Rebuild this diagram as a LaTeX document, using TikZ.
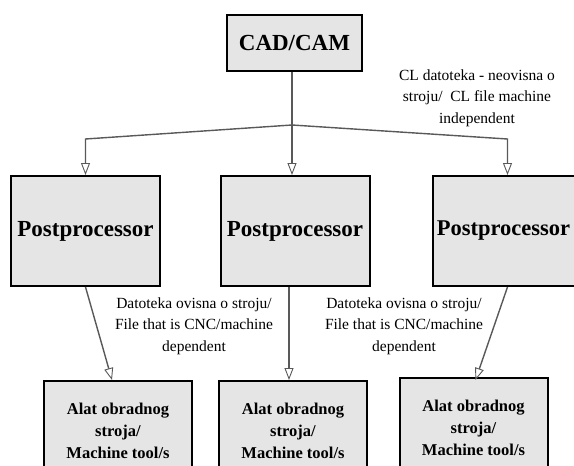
\documentclass[tikz,border=0pt]{standalone}
\usepackage{fontspec}
\setmainfont{Liberation Serif}
\usetikzlibrary{arrows.meta,positioning,calc}

\begin{document}
\begin{tikzpicture}[x=1pt,y=-1pt,
    box/.style={draw=black, line width=2pt, fill=black!10, inner sep=0pt, align=center},
    pfeil/.style={draw=black!65, line width=1.4pt, -{Triangle[open,length=12pt,width=9pt,line width=0.9pt,fill=white]}},
    etikett/.style={align=center, inner sep=0pt, font=\fontsize{15.5}{21.5}\selectfont}]
    % Rahmen des Bildes
    \clip (0,0) rectangle (574,466);
    \fill[white] (0,0) rectangle (574,466);

    % Oberer Kasten
    \node[box, minimum width=135pt, minimum height=56pt, font=\bfseries\fontsize{23}{26}\selectfont] (cad) at (294.5,43) {CAD/CAM};

    % Postprozessoren
    \node[box, minimum width=149pt, minimum height=110pt, font=\bfseries\fontsize{23}{26}\selectfont] (postL) at (85.5,231) {\raisebox{5pt}{Postprocessor}};
    \node[box, minimum width=149pt, minimum height=110pt, font=\bfseries\fontsize{23}{26}\selectfont] (postM) at (295,231) {\raisebox{5pt}{Postprocessor}};
    \node[box, minimum width=149pt, minimum height=110pt, font=\bfseries\fontsize{22.5}{26}\selectfont] (postR) at (507.5,231) {\hspace*{-8pt}\raisebox{5pt}{Postprocessor}};

    % Maschinen
    \node[box, minimum width=148pt, minimum height=100pt, font=\bfseries\fontsize{16.5}{22}\selectfont] (toolL) at (118,431) {Alat obradnog\\stroja/\\Machine tool/s};
    \node[box, minimum width=148pt, minimum height=100pt, font=\bfseries\fontsize{16.5}{22}\selectfont] (toolM) at (293,431) {Alat obradnog\\stroja/\\Machine tool/s};
    \node[box, minimum width=148pt, minimum height=100pt, font=\bfseries\fontsize{16.5}{22}\selectfont] (toolR) at (473.5,428) {Alat obradnog\\stroja/\\Machine tool/s};

    % Verzweigung unter CAD/CAM
    \coordinate (ast) at (292,125);
    \coordinate (astL) at (postL.north |- 0,139);
    \coordinate (astR) at (postR.north |- 0,139);

    \draw[pfeil] (cad.south -| ast) -- (ast) -- (ast |- postM.north);
    \draw[pfeil] (ast) -- (astL) -- (postL.north);
    \draw[pfeil] (ast) -- (astR) -- (postR.north);

    % Pfeile zu den Maschinen
    \draw[pfeil] (postL.south) -- ([xshift=-6pt]toolL.north);
    \draw[pfeil] ([xshift=-6pt]postM.south) -- ([xshift=-4pt]toolM.north);
    \draw[pfeil] (postR.south) -- ([xshift=2pt,yshift=-3pt]toolR.north);

    % Beschriftungen
    \node[etikett] (clL) at (477,98) {CL datoteka - neovisna o\\stroju/\ \ CL file machine\\independent};
    \node[etikett] (datL) at (194,326) {Datoteka ovisna o stroju/\\File that is CNC/machine\\dependent};
    \node[etikett] (datR) at (404,326) {Datoteka ovisna o stroju/\\File that is CNC/machine\\dependent};
\end{tikzpicture}
\end{document}
